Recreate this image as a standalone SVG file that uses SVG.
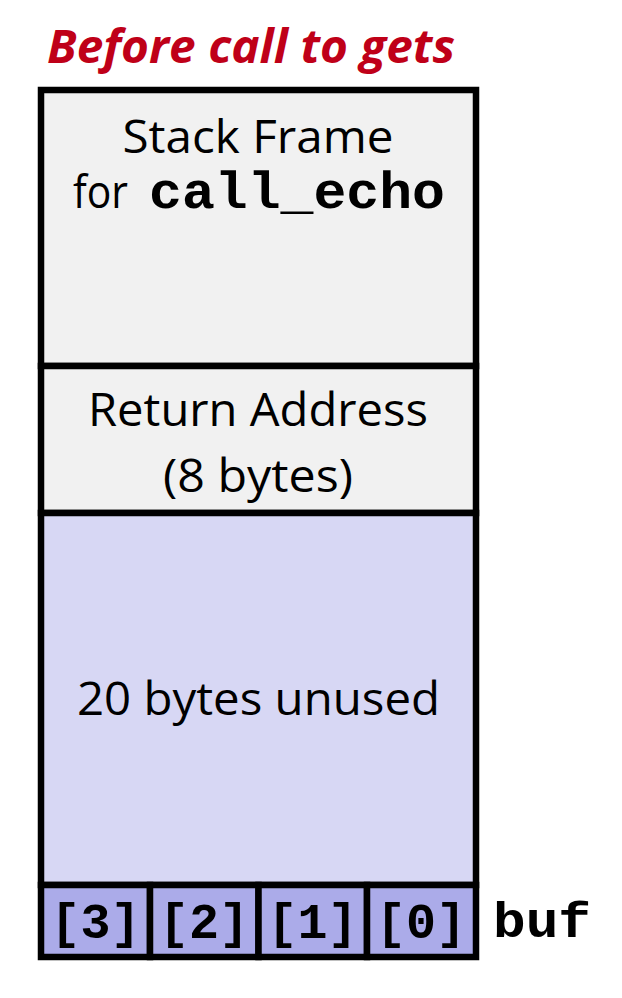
<svg xmlns="http://www.w3.org/2000/svg" width="622" height="998" viewBox="0 0 622 998">
  <style>
    .frame { stroke: #000; stroke-width: 6.5; }
    .gray { fill: #F1F1F1; }
    .lav { fill: #D7D7F4; }
    .cell { fill: #ABABE9; }
    .sans { font-family: "Open Sans", "Noto Sans", "Liberation Sans", sans-serif; font-size: 45px; fill: #000; }
    .mono { font-family: "Liberation Mono", "Courier New", monospace; font-weight: bold; fill: #000; }
    .title { font-family: "Open Sans", "Noto Sans", "Liberation Sans", sans-serif; font-size: 47px; font-weight: bold; font-style: italic; fill: #BF0018; }
  </style>

  <rect width="622" height="998" fill="#FFFFFF"/>

  <text class="title" x="47" y="63" textLength="408" lengthAdjust="spacingAndGlyphs">Before call to gets</text>

  <g id="stack-frame">
    <rect class="frame gray" x="41" y="90" width="435" height="276"/>
    <text class="sans" x="258" y="153" text-anchor="middle" textLength="271" lengthAdjust="spacingAndGlyphs">Stack Frame</text>
    <text y="208"><tspan class="sans" x="73" textLength="55" lengthAdjust="spacingAndGlyphs">for</tspan><tspan class="mono" x="149" font-size="52" textLength="296" lengthAdjust="spacingAndGlyphs">call_echo</tspan></text>
  </g>

  <g id="return-address">
    <rect class="frame gray" x="41" y="366" width="435" height="147"/>
    <text class="sans" x="258" y="426" text-anchor="middle" textLength="340" lengthAdjust="spacingAndGlyphs">Return Address</text>
    <text class="sans" x="258" y="492" text-anchor="middle" textLength="190" lengthAdjust="spacingAndGlyphs">(8 bytes)</text>
  </g>

  <g id="unused">
    <rect class="frame lav" x="41" y="513" width="435" height="372"/>
    <text class="sans" x="258.5" y="715" text-anchor="middle" textLength="363" lengthAdjust="spacingAndGlyphs">20 bytes unused</text>
  </g>

  <g id="buf">
    <rect class="frame cell" x="41" y="885" width="109" height="72"/>
    <rect class="frame cell" x="150" y="885" width="108.5" height="72"/>
    <rect class="frame cell" x="258.5" y="885" width="108.5" height="72"/>
    <rect class="frame cell" x="367" y="885" width="109" height="72"/>
    <text class="mono" x="95.5" y="938" font-size="50" text-anchor="middle">[3]</text>
    <text class="mono" x="204" y="938" font-size="50" text-anchor="middle">[2]</text>
    <text class="mono" x="312.5" y="938" font-size="50" text-anchor="middle">[1]</text>
    <text class="mono" x="421" y="938" font-size="50" text-anchor="middle">[0]</text>
    <text class="mono" x="493" y="937" font-size="50" textLength="98" lengthAdjust="spacingAndGlyphs">buf</text>
  </g>
</svg>
